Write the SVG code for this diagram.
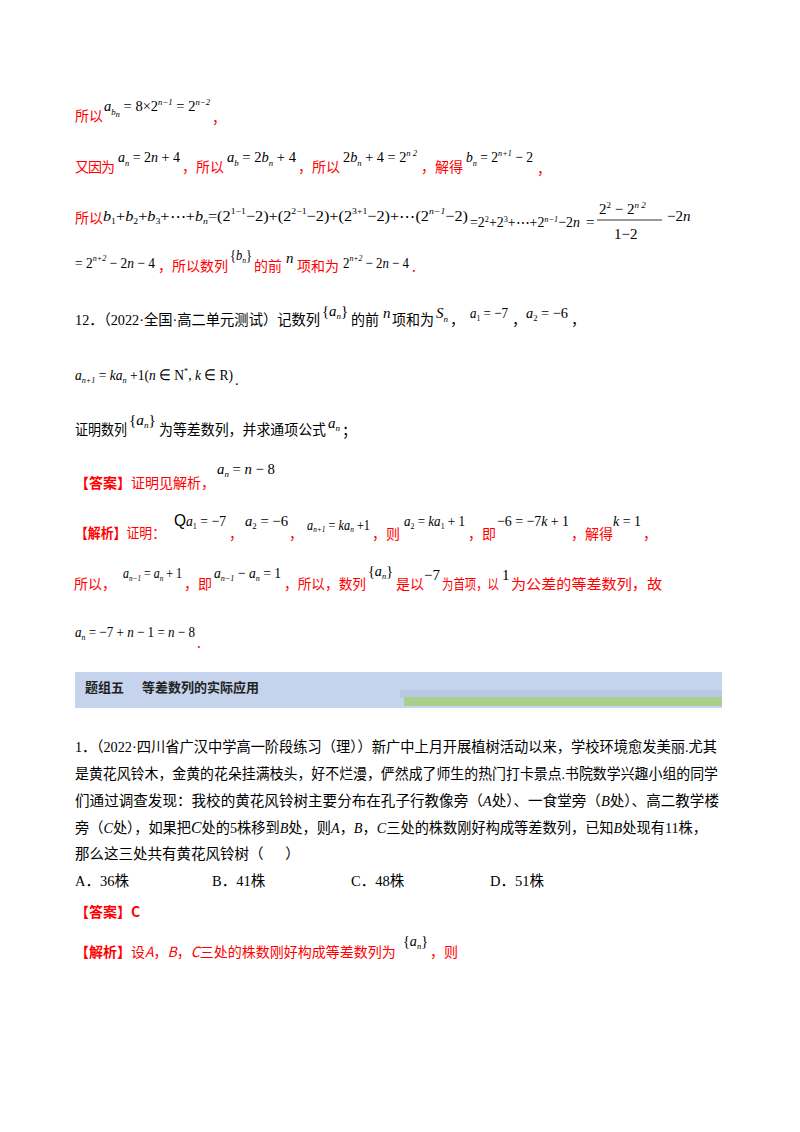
<svg xmlns="http://www.w3.org/2000/svg" width="800" height="1132" viewBox="0 0 800 1132">
<style>
.r{fill:#ff0000;font-family:"Noto Sans CJK SC","Liberation Serif",serif;font-size:14px}
.k{fill:#000;font-family:"Liberation Serif","Noto Sans CJK SC",serif;font-size:14.5px}
.m{fill:#000;font-family:"Liberation Serif",serif;font-size:15px}
.i{font-style:italic}
.s{font-size:9px}
.b{font-weight:bold}
</style>
<rect width="800" height="1132" fill="#fff"/>
<g id="l1">
<text class="r" x="75" y="121">所以</text>
<text class="m" x="104" y="111" textLength="106" lengthAdjust="spacingAndGlyphs"><tspan class="i">a</tspan><tspan class="s i" y="115">b</tspan><tspan class="s i" y="117" font-size="6">n</tspan><tspan y="111"> = 8×2</tspan><tspan class="s i" y="105">n−1</tspan><tspan y="111"> = 2</tspan><tspan class="s i" y="105">n−2</tspan></text>
<text class="r" x="212" y="123">，</text>
</g>
<g id="l2">
<text class="r" x="75" y="172" textLength="40">又因为</text>
<text class="m" x="118" y="162" textLength="62" lengthAdjust="spacingAndGlyphs"><tspan class="i">a</tspan><tspan class="s i" y="166">n</tspan><tspan y="162"> = 2</tspan><tspan class="i">n</tspan><tspan> + 4</tspan></text>
<text class="r" x="182" y="172">，所以</text>
<text class="m" x="227" y="162" textLength="69" lengthAdjust="spacingAndGlyphs"><tspan class="i">a</tspan><tspan class="s i" y="166">b</tspan><tspan y="162"> = 2</tspan><tspan class="i">b</tspan><tspan class="s i" y="166">n</tspan><tspan y="162"> + 4</tspan></text>
<text class="r" x="298" y="172">，所以</text>
<text class="m" x="343" y="162" textLength="74" lengthAdjust="spacingAndGlyphs"><tspan>2</tspan><tspan class="i">b</tspan><tspan class="s i" y="166">n</tspan><tspan y="162"> + 4 = 2</tspan><tspan class="s i" y="156">n  2</tspan></text>
<text class="r" x="421" y="172">，解得</text>
<text class="m" x="466" y="162" textLength="67" lengthAdjust="spacingAndGlyphs"><tspan class="i">b</tspan><tspan class="s i" y="166">n</tspan><tspan y="162"> = 2</tspan><tspan class="s i" y="156">n+1</tspan><tspan y="162"> − 2</tspan></text>
<text class="r" x="537" y="174">，</text>
</g>
<g id="l3">
<text class="r" x="75" y="223">所以</text>
<text class="m" x="103" y="221" textLength="365" lengthAdjust="spacingAndGlyphs"><tspan class="i">b</tspan><tspan class="s" y="224">1</tspan><tspan y="221">+</tspan><tspan class="i">b</tspan><tspan class="s" y="224">2</tspan><tspan y="221">+</tspan><tspan class="i">b</tspan><tspan class="s" y="224">3</tspan><tspan y="221">+⋯+</tspan><tspan class="i">b</tspan><tspan class="s i" y="224">n</tspan><tspan y="221">=(2</tspan><tspan class="s" y="214">1−1</tspan><tspan y="221">−2)+(2</tspan><tspan class="s" y="214">2−1</tspan><tspan y="221">−2)+(2</tspan><tspan class="s" y="214">3+1</tspan><tspan y="221">−2)+⋯(2</tspan><tspan class="s i" y="214">n−1</tspan><tspan y="221">−2)</tspan></text>
<text class="m" x="470" y="227" font-size="13" textLength="110" lengthAdjust="spacingAndGlyphs"><tspan>=2</tspan><tspan class="s" y="222">2</tspan><tspan y="227">+2</tspan><tspan class="s" y="222">3</tspan><tspan y="227">+⋯+2</tspan><tspan class="s i" y="222">n−1</tspan><tspan y="227">−2</tspan><tspan class="i">n</tspan></text>
<text class="m" x="586" y="227" font-size="13">=</text>
<text class="m" x="599" y="214" font-size="14"><tspan>2</tspan><tspan class="s" y="208">2</tspan><tspan y="214"> − 2</tspan><tspan class="s i" y="208">n  2</tspan></text>
<line x1="597" y1="220" x2="662" y2="220" stroke="#000" stroke-width="0.8"/>
<text class="m" x="614" y="239">1−2</text>
<text class="m" x="667" y="221">−2<tspan class="i">n</tspan></text>
</g>
<g id="l4">
<text class="m" x="75" y="268" textLength="80" lengthAdjust="spacingAndGlyphs"><tspan>= 2</tspan><tspan class="s i" y="261">n+2</tspan><tspan y="268"> − 2</tspan><tspan class="i">n</tspan><tspan> − 4</tspan></text>
<text class="r" x="158" y="271">，所以数列</text>
<text class="m" x="230" y="260" textLength="22" lengthAdjust="spacingAndGlyphs"><tspan>{</tspan><tspan class="i">b</tspan><tspan class="s i" y="263">n</tspan><tspan y="260">}</tspan></text>
<text class="r" x="254" y="271">的前</text>
<text class="m i" x="286" y="263">n</text>
<text class="r" x="297" y="271">项和为</text>
<text class="m" x="343" y="268" textLength="66" lengthAdjust="spacingAndGlyphs"><tspan>2</tspan><tspan class="s i" y="261">n+2</tspan><tspan y="268"> − 2</tspan><tspan class="i">n</tspan><tspan> − 4</tspan></text>
<text class="r" x="412" y="272">.</text>
</g>
<g id="q12">
<text class="k" x="75" y="325" textLength="245" lengthAdjust="spacingAndGlyphs">12．（2022·全国·高二单元测试）记数列</text>
<text class="m" x="322" y="316" textLength="26" lengthAdjust="spacingAndGlyphs"><tspan>{</tspan><tspan class="i">a</tspan><tspan class="s i" y="319">n</tspan><tspan y="316">}</tspan></text>
<text class="k" x="351" y="325" textLength="28" lengthAdjust="spacingAndGlyphs">的前</text>
<text class="m i" x="383" y="318">n</text>
<text class="k" x="392" y="325" textLength="42" lengthAdjust="spacingAndGlyphs">项和为</text>
<text class="m i" x="436" y="318">S<tspan class="s" y="322">n</tspan></text>
<text class="k" x="450" y="325">，</text>
<text class="m" x="470" y="318" textLength="38" lengthAdjust="spacingAndGlyphs"><tspan class="i">a</tspan><tspan class="s" y="321">1</tspan><tspan y="318"> = −7</tspan></text>
<text class="k" x="512" y="325">，</text>
<text class="m" x="526" y="318" textLength="42" lengthAdjust="spacingAndGlyphs"><tspan class="i">a</tspan><tspan class="s" y="321">2</tspan><tspan y="318"> = −6</tspan></text>
<text class="k" x="571" y="325">，</text>
<text class="m" x="75" y="380" textLength="158" lengthAdjust="spacingAndGlyphs"><tspan class="i">a</tspan><tspan class="s i" y="383">n+1</tspan><tspan y="380"> = </tspan><tspan class="i">ka</tspan><tspan class="s i" y="383">n</tspan><tspan y="380"> +1(</tspan><tspan class="i">n</tspan><tspan> ∈ N</tspan><tspan class="s" y="374">*</tspan><tspan y="380">, </tspan><tspan class="i">k</tspan><tspan> ∈ R)</tspan></text>
<text class="k" x="235" y="385">.</text>
<text class="k" x="75" y="435" textLength="52" lengthAdjust="spacingAndGlyphs">证明数列</text>
<text class="m" x="129" y="425" textLength="27" lengthAdjust="spacingAndGlyphs"><tspan>{</tspan><tspan class="i">a</tspan><tspan class="s i" y="428">n</tspan><tspan y="425">}</tspan></text>
<text class="k" x="159" y="435" textLength="167" lengthAdjust="spacingAndGlyphs">为等差数列，并求通项公式</text>
<text class="m i" x="328" y="428">a<tspan class="s" y="431">n</tspan></text>
<text class="k" x="342" y="436">；</text>
</g>
<g id="ans">
<text class="r" x="75" y="488"><tspan class="b">【答案】</tspan>证明见解析，</text>
<text class="m" x="217" y="474" textLength="58" lengthAdjust="spacingAndGlyphs"><tspan class="i">a</tspan><tspan class="s i" y="477">n</tspan><tspan y="474"> = </tspan><tspan class="i">n</tspan><tspan> − 8</tspan></text>
</g>
<g id="sol">
<text class="r" x="75" y="538" textLength="90" lengthAdjust="spacingAndGlyphs"><tspan class="b">【解析】</tspan>证明：</text>
<text class="m" x="174" y="526" textLength="52" lengthAdjust="spacingAndGlyphs"><tspan font-family="Liberation Sans" font-size="17">Q</tspan><tspan class="i">a</tspan><tspan class="s" y="529">1</tspan><tspan y="526"> = −7</tspan></text>
<text class="r" x="229" y="539">，</text>
<text class="m" x="245" y="526" textLength="43" lengthAdjust="spacingAndGlyphs"><tspan class="i">a</tspan><tspan class="s" y="529">2</tspan><tspan y="526"> = −6</tspan></text>
<text class="r" x="289" y="539">，</text>
<text class="m" x="307" y="530" font-size="11" textLength="63" lengthAdjust="spacingAndGlyphs"><tspan class="i">a</tspan><tspan class="s i" y="532">n+1</tspan><tspan y="530"> = </tspan><tspan class="i">ka</tspan><tspan class="s i" y="532">n</tspan><tspan y="530" font-size="15"> +1</tspan></text>
<text class="r" x="372" y="539">，则</text>
<text class="m" x="404" y="526" textLength="61" lengthAdjust="spacingAndGlyphs"><tspan class="i">a</tspan><tspan class="s" y="529">2</tspan><tspan y="526"> = </tspan><tspan class="i">ka</tspan><tspan class="s" y="529">1</tspan><tspan y="526"> + 1</tspan></text>
<text class="r" x="468" y="539">，即</text>
<text class="m" x="497" y="526" textLength="72" lengthAdjust="spacingAndGlyphs">−6 = −7<tspan class="i">k</tspan> + 1</text>
<text class="r" x="571" y="539">，解得</text>
<text class="m" x="613" y="526" textLength="28" lengthAdjust="spacingAndGlyphs"><tspan class="i">k</tspan> = 1</text>
<text class="r" x="643" y="539">，</text>
<text class="r" x="74" y="589">所以，</text>
<text class="m" x="123" y="578" textLength="59" lengthAdjust="spacingAndGlyphs"><tspan class="i">a</tspan><tspan class="s i" y="581">n−1</tspan><tspan y="578"> = </tspan><tspan class="i">a</tspan><tspan class="s i" y="581">n</tspan><tspan y="578"> + 1</tspan></text>
<text class="r" x="184" y="589">，即</text>
<text class="m" x="214" y="578" textLength="67" lengthAdjust="spacingAndGlyphs"><tspan class="i">a</tspan><tspan class="s i" y="581">n−1</tspan><tspan y="578"> − </tspan><tspan class="i">a</tspan><tspan class="s i" y="581">n</tspan><tspan y="578"> = 1</tspan></text>
<text class="r" x="284" y="589" textLength="82" lengthAdjust="spacingAndGlyphs">，所以，数列</text>
<text class="m" x="368" y="576" textLength="25" lengthAdjust="spacingAndGlyphs"><tspan>{</tspan><tspan class="i">a</tspan><tspan class="s i" y="579">n</tspan><tspan y="576">}</tspan></text>
<text class="r" x="396" y="589">是以</text>
<text class="m" x="424" y="580">−7</text>
<text class="r" x="442" y="589" textLength="57" lengthAdjust="spacingAndGlyphs">为首项，以</text>
<text class="m" x="502" y="580">1</text>
<text class="r" x="511" y="589" textLength="151" lengthAdjust="spacingAndGlyphs">为公差的等差数列，故</text>
<text class="m" x="75" y="637" textLength="120" lengthAdjust="spacingAndGlyphs"><tspan class="i">a</tspan><tspan class="s i" y="640">n</tspan><tspan y="637"> = −7 + </tspan><tspan class="i">n</tspan><tspan> − 1 = </tspan><tspan class="i">n</tspan><tspan> − 8</tspan></text>
<text class="r" x="197" y="648">.</text>
</g>
<g id="header">
<rect x="75" y="672" width="647" height="36" fill="#c5d3ec"/>
<rect x="400" y="690" width="322" height="8" fill="#b8c8e4"/>
<rect x="404" y="697" width="318" height="9" fill="#a8cf8c"/>
<text class="b" x="85" y="692" font-family="Noto Sans CJK SC" font-size="13" fill="#222">题组五</text>
<text class="b" x="142" y="692" font-family="Noto Sans CJK SC" font-size="13" fill="#222">等差数列的实际应用</text>
</g>
<g id="q1">
<text class="k" x="75" y="752" textLength="642" lengthAdjust="spacingAndGlyphs">1．（2022·四川省广汉中学高一阶段练习（理））新广中上月开展植树活动以来，学校环境愈发美丽.尤其</text>
<text class="k" x="75" y="779" textLength="643" lengthAdjust="spacingAndGlyphs">是黄花风铃木，金黄的花朵挂满枝头，好不烂漫，俨然成了师生的热门打卡景点.书院数学兴趣小组的同学</text>
<text class="k" x="75" y="806" textLength="644" lengthAdjust="spacingAndGlyphs">们通过调查发现：我校的黄花风铃树主要分布在孔子行教像旁（<tspan class="i">A</tspan>处）、一食堂旁（<tspan class="i">B</tspan>处）、高二教学楼</text>
<text class="k" x="75" y="833" textLength="632" lengthAdjust="spacingAndGlyphs">旁（<tspan class="i">C</tspan>处），如果把<tspan class="i" font-size="16">C</tspan>处的5株移到<tspan class="i">B</tspan>处，则<tspan class="i">A</tspan>，<tspan class="i">B</tspan>，<tspan class="i">C</tspan>三处的株数刚好构成等差数列，已知<tspan class="i">B</tspan>处现有11株，</text>
<text class="k" x="75" y="859" xml:space="preserve">那么这三处共有黄花风铃树（      ）</text>
<text class="k" x="75" y="886">A．36株</text>
<text class="k" x="212" y="886">B．41株</text>
<text class="k" x="351" y="886">C．48株</text>
<text class="k" x="490" y="886">D．51株</text>
<text class="r b" x="75" y="917">【答案】C</text>
<text class="r" x="75" y="957"><tspan class="b">【解析】</tspan>设<tspan class="i">A</tspan>，<tspan class="i">B</tspan>，<tspan class="i">C</tspan>三处的株数刚好构成等差数列为</text>
<text class="m" x="403" y="946" textLength="25" lengthAdjust="spacingAndGlyphs"><tspan>{</tspan><tspan class="i">a</tspan><tspan class="s i" y="949">n</tspan><tspan y="946">}</tspan></text>
<text class="r" x="430" y="957">，则</text>
</g>
</svg>
